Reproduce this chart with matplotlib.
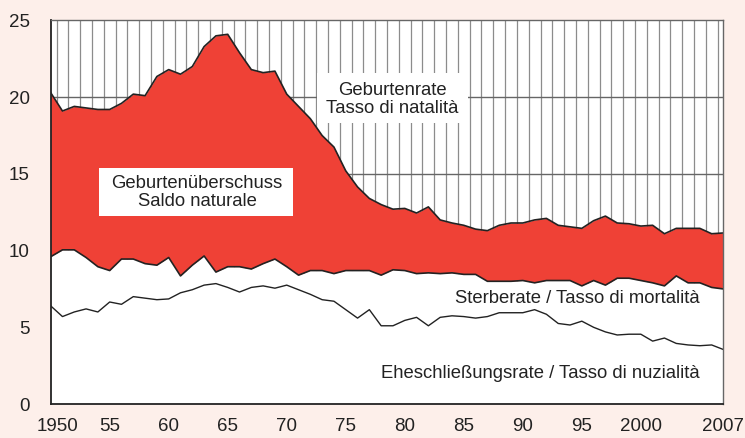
import numpy as np
import matplotlib
matplotlib.use("Agg")
import matplotlib.pyplot as plt
import matplotlib.transforms as mtransforms
from matplotlib.patches import Rectangle

plt.rcParams['font.family'] = ['Liberation Sans', 'DejaVu Sans']

# rates per 1000 inhabitants
years = np.arange(1950, 2008)
birth = [20.3, 19.1, 19.4, 19.3, 19.2, 19.2, 19.6, 20.2, 20.1, 21.35,
         21.8, 21.5, 22.0, 23.3, 24.0, 24.1, 22.9, 21.8, 21.6, 21.7,
         20.2, 19.4, 18.6, 17.5, 16.75, 15.2, 14.15, 13.4, 13.0, 12.7,
         12.75, 12.45, 12.85, 12.0, 11.8, 11.65, 11.4, 11.3, 11.65, 11.8,
         11.8, 12.0, 12.1, 11.65, 11.55, 11.45, 11.95, 12.25, 11.8, 11.75,
         11.6, 11.65, 11.1, 11.45, 11.45, 11.45, 11.1, 11.15]
death = [9.6, 10.05, 10.05, 9.55, 8.95, 8.7, 9.45, 9.45, 9.15, 9.05,
         9.55, 8.35, 9.05, 9.65, 8.6, 8.95, 8.95, 8.8, 9.15, 9.45,
         8.95, 8.4, 8.7, 8.7, 8.5, 8.7, 8.7, 8.7, 8.4, 8.75,
         8.7, 8.5, 8.55, 8.5, 8.55, 8.45, 8.45, 8.0, 8.0, 8.0,
         8.05, 7.9, 8.05, 8.05, 8.05, 7.7, 8.05, 7.75, 8.2, 8.2,
         8.05, 7.9, 7.7, 8.35, 7.9, 7.9, 7.6, 7.5]
marriage = [6.4, 5.7, 6.0, 6.2, 6.0, 6.65, 6.5, 7.0, 6.9, 6.8,
            6.85, 7.25, 7.45, 7.75, 7.85, 7.6, 7.3, 7.6, 7.7, 7.55,
            7.75, 7.45, 7.15, 6.8, 6.7, 6.15, 5.6, 6.15, 5.1, 5.1,
            5.45, 5.65, 5.1, 5.65, 5.75, 5.7, 5.6, 5.7, 5.95, 5.95,
            5.95, 6.15, 5.85, 5.25, 5.15, 5.4, 5.0, 4.7, 4.5, 4.55,
            4.55, 4.1, 4.3, 3.95, 3.85, 3.8, 3.85, 3.55]

xticks = [1950, 1955, 1960, 1965, 1970, 1975, 1980, 1985, 1990, 1995, 2000, 2007]
xlabels = ['1950', '55', '60', '65', '70', '75', '80', '85', '90', '95', '2000', '2007']
yticks = [0, 5, 10, 15, 20, 25]

red = '#EF4136'
pink = '#FDEFEA'
ink = '#222222'
fs = 13.3

fig = plt.figure(figsize=(7.45, 4.38), dpi=100, facecolor=pink)
ax = fig.add_axes([0.068, 0.0776, 0.9031, 0.8756])
ax.set_facecolor('white')

# grid: a line between every year, horizontal lines every 5
ax.vlines(years[:-1] + 0.5, 0, 25, color='#8c8c8c', lw=0.9, zorder=1)
ax.hlines(yticks[1:-1], 1950, 2007, color='#666666', lw=1.0, zorder=1)

ax.fill_between(years, death, birth, color=red, lw=0, zorder=2)
ax.fill_between(years, 0, death, color='white', lw=0, zorder=2)
ax.plot(years, birth, color=ink, lw=1.2, zorder=3)
ax.plot(years, death, color=ink, lw=1.2, zorder=3)
ax.plot(years, marriage, color=ink, lw=1.0, zorder=3)

ax.set_xlim(1950, 2007)
ax.set_ylim(0, 25)
ax.set_xticks(xticks)
ax.set_xticklabels(xlabels)
ax.set_yticks(yticks)
ax.tick_params(axis='both', length=0, labelsize=13.5, colors=ink)
ax.tick_params(axis='x', pad=10)
ax.tick_params(axis='y', pad=15)
# the first year label sits a bit to the right in the original
lab0 = ax.get_xticklabels()[0]
lab0.set_transform(lab0.get_transform() +
                   mtransforms.ScaledTranslation(5 / 72, 0, fig.dpi_scale_trans))
for s in ['left', 'bottom']:
    ax.spines[s].set_color(ink)
    ax.spines[s].set_linewidth(1.3)
for s in ['top', 'right']:
    ax.spines[s].set_color('#666666')
    ax.spines[s].set_linewidth(1.0)
for s in ax.spines.values():
    s.set_zorder(5)

# label boxes
ax.add_patch(Rectangle((1972.55, 18.3), 12.8, 3.3, facecolor='white',
                       edgecolor='none', zorder=4))
ax.text(1978.95, 19.85, 'Geburtenrate\nTasso di natalità', ha='center',
        va='center', fontsize=fs, color=ink, linespacing=1.05, zorder=5)

ax.add_patch(Rectangle((1954.1, 12.25), 16.4, 3.15, facecolor='white',
                       edgecolor='none', zorder=4))
ax.text(1962.4, 13.8, 'Geburtenüberschuss\nSaldo naturale', ha='center',
        va='center', fontsize=fs, color=ink, linespacing=1.05, zorder=5)

ax.text(2005.0, 6.9, 'Sterberate / Tasso di mortalità', ha='right',
        va='center', fontsize=fs, color=ink, zorder=5)
ax.text(2005.0, 2.0, 'Eheschließungsrate / Tasso di nuzialità', ha='right',
        va='center', fontsize=fs, color=ink, zorder=5)

fig.savefig('out.png', dpi=100, facecolor=pink)
